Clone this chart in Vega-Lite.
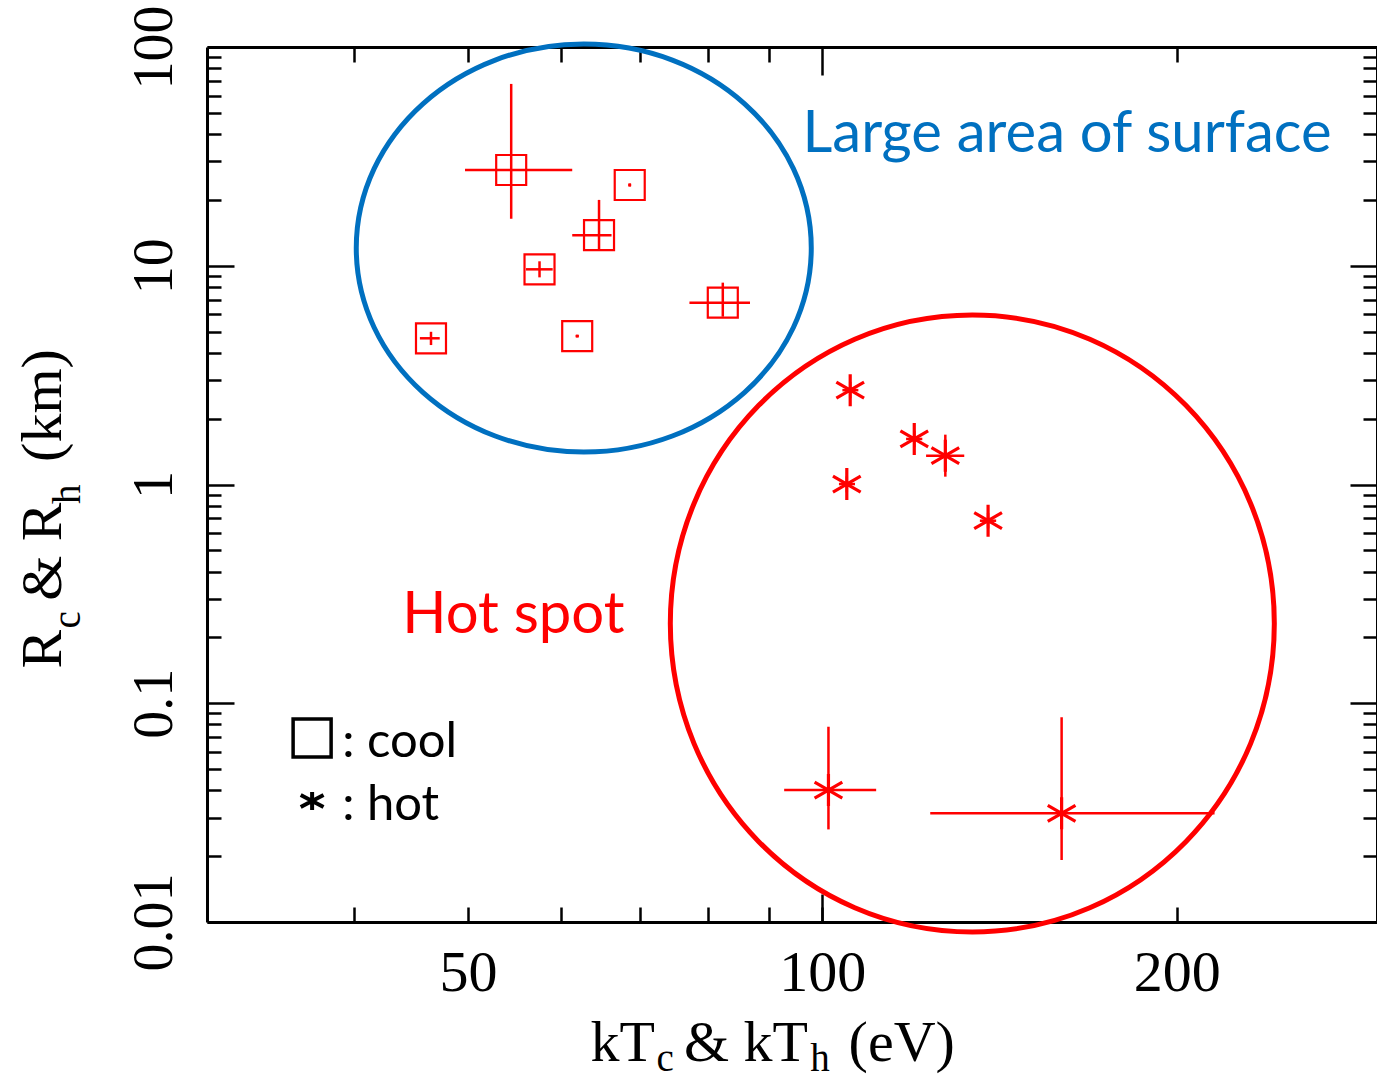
{
  "$schema": "https://vega.github.io/schema/vega-lite/v6.json",
  "width": 1170,
  "height": 875,
  "autosize": "none",
  "padding": {"left": 207, "top": 47, "right": 0, "bottom": 154},
  "background": "white",
  "config": {
    "view": {"stroke": null},
    "axis": {
      "grid": false,
      "tickColor": "#000",
      "domainColor": "#000",
      "labelColor": "#000",
      "titleColor": "#000",
      "labelFont": "Liberation Serif",
      "titleFont": "Liberation Serif",
      "titleFontWeight": "normal",
      "tickWidth": 2.5,
      "domainWidth": 3,
      "labelOverlap": false,
      "labelFlush": false
    }
  },
  "datasets": {
    "measurements": [
      {"component": "cool", "kT": 54.4, "R": 27.4, "kTlo": 49.7, "kThi": 61.3, "Rlo": 16.4, "Rhi": 67.8},
      {"component": "cool", "kT": 68.6, "R": 23.4, "kTlo": 68.4, "kThi": 68.8, "Rlo": 23.0, "Rhi": 23.8},
      {"component": "cool", "kT": 64.6, "R": 13.8, "kTlo": 61.3, "kThi": 66.2, "Rlo": 11.8, "Rhi": 20.0},
      {"component": "cool", "kT": 57.5, "R": 9.63, "kTlo": 56.0, "kThi": 59.0, "Rlo": 8.85, "Rhi": 10.48},
      {"component": "cool", "kT": 82.3, "R": 6.78, "kTlo": 77.1, "kThi": 86.8, "Rlo": 5.85, "Rhi": 8.37},
      {"component": "cool", "kT": 46.5, "R": 4.66, "kTlo": 45.5, "kThi": 47.3, "Rlo": 4.34, "Rhi": 4.99},
      {"component": "cool", "kT": 61.9, "R": 4.77, "kTlo": 61.7, "kThi": 62.1, "Rlo": 4.70, "Rhi": 4.84},
      {"component": "hot", "kT": 105.6, "R": 2.70, "kTlo": 104.0, "kThi": 107.3, "Rlo": 2.48, "Rhi": 2.94},
      {"component": "hot", "kT": 119.7, "R": 1.615, "kTlo": 117.8, "kThi": 121.6, "Rlo": 1.48, "Rhi": 1.76},
      {"component": "hot", "kT": 127.2, "R": 1.354, "kTlo": 122.5, "kThi": 132.0, "Rlo": 1.086, "Rhi": 1.69},
      {"component": "hot", "kT": 104.9, "R": 1.005, "kTlo": 103.3, "kThi": 106.6, "Rlo": 0.92, "Rhi": 1.09},
      {"component": "hot", "kT": 138.3, "R": 0.683, "kTlo": 136.1, "kThi": 140.5, "Rlo": 0.63, "Rhi": 0.74},
      {"component": "hot", "kT": 101.2, "R": 0.0401, "kTlo": 92.8, "kThi": 111.1, "Rlo": 0.0265, "Rhi": 0.0781},
      {"component": "hot", "kT": 159.7, "R": 0.0314, "kTlo": 123.5, "kThi": 215.4, "Rlo": 0.0192, "Rhi": 0.0863}
    ],
    "regions": [
      {"region": "surface", "kT": 62.7, "R": 12.05},
      {"region": "spot", "kT": 134.1, "R": 0.2315}
    ],
    "notes": [
      {"note": "Large area of surface", "group": "surface", "kT": 96.2, "R": 33.1},
      {"note": "Hot spot", "group": "spot", "kT": 43.96, "R": 0.2096},
      {"note": ": cool", "group": "key", "kT": 39.08, "R": 0.0568},
      {"note": ": hot", "group": "key", "kT": 39.08, "R": 0.02925}
    ],
    "key": [
      {"component": "cool", "kT": 36.85, "R": 0.0694},
      {"component": "hot", "kT": 36.85, "R": 0.0357}
    ]
  },
  "resolve": {"axis": {"x": "independent", "y": "independent"}},
  "layer": [
    {
      "data": {"name": "regions"},
      "transform": [{"filter": "datum.region == 'surface'"}],
      "mark": {
        "type": "point",
        "shape": "M1,0C1,0.4953,0.5523,0.8967,0,0.8967C-0.5523,0.8967,-1,0.4953,-1,0C-1,-0.4953,-0.5523,-0.8967,0,-0.8967C0.5523,-0.8967,1,-0.4953,1,0Z",
        "size": 207025,
        "filled": false,
        "stroke": "#0070C0",
        "strokeWidth": 5,
        "opacity": 1
      },
      "encoding": {
        "x": {
          "field": "kT", "type": "quantitative",
          "scale": {"type": "log", "domain": [30, 296], "nice": false},
          "axis": {
            "orient": "bottom",
            "values": [40, 50, 60, 70, 80, 90, 100, 200],
            "tickSize": -15,
            "domain": true,
            "labelExpr": "indexof([50,100,200], datum.value) >= 0 ? toString(datum.value) : ''",
            "labelFontSize": 58,
            "labelPadding": 83,
            "labelAlign": "center",
            "labelBaseline": "alphabetic",
            "title": "kT\u00a0\u00a0& kT\u00a0\u00a0\u2009(eV)",
            "titleFontSize": 58,
            "titleX": 383,
            "titleY": 138,
            "titleAlign": "left",
            "titleBaseline": "alphabetic"
          }
        },
        "y": {
          "field": "R", "type": "quantitative",
          "scale": {"type": "log", "domain": [0.01, 100], "nice": false},
          "axis": {
            "orient": "left",
            "values": [0.01, 0.1, 1, 10, 100],
            "tickSize": -27,
            "domain": true,
            "labelExpr": "toString(datum.value)",
            "labelFontSize": 56,
            "labelAngle": -90,
            "labelAlign": "center",
            "labelBaseline": "alphabetic",
            "labelPadding": 63,
            "title": "R\u00a0\u00a0& R\u00a0\u00a0\u2009(km)",
            "titleFontSize": 58,
            "titleAngle": -90,
            "titleAlign": "left",
            "titleBaseline": "alphabetic",
            "titleX": -147,
            "titleY": 621
          }
        }
      }
    },
    {
      "data": {"name": "regions"},
      "transform": [{"filter": "datum.region == 'spot'"}],
      "mark": {
        "type": "point",
        "shape": "M1,0C1,0.5642,0.5523,1.0215,0,1.0215C-0.5523,1.0215,-1,0.5642,-1,0C-1,-0.5642,-0.5523,-1.0215,0,-1.0215C0.5523,-1.0215,1,-0.5642,1,0Z",
        "size": 364816,
        "filled": false,
        "stroke": "#FF0000",
        "strokeWidth": 5,
        "opacity": 1
      },
      "encoding": {
        "x": {
          "field": "kT", "type": "quantitative",
          "scale": {"type": "log", "domain": [30, 296], "nice": false},
          "axis": {
            "orient": "bottom",
            "values": [100],
            "tickSize": -28,
            "domain": false,
            "labels": false,
            "title": "c\u00a0\u00a0\u00a0\u00a0\u00a0\u00a0\u00a0\u00a0\u00a0\u00a0\u00a0\u00a0\u00a0\u00a0h",
            "titleFontSize": 39,
            "titleX": 449,
            "titleY": 148,
            "titleAlign": "left",
            "titleBaseline": "alphabetic"
          }
        },
        "y": {
          "field": "R", "type": "quantitative",
          "scale": {"type": "log", "domain": [0.01, 100], "nice": false},
          "axis": {
            "orient": "left",
            "values": [0.02, 0.03, 0.04, 0.05, 0.06, 0.07, 0.08, 0.09, 0.2, 0.3, 0.4, 0.5, 0.6, 0.7, 0.8, 0.9, 2, 3, 4, 5, 6, 7, 8, 9, 20, 30, 40, 50, 60, 70, 80, 90],
            "tickSize": -14,
            "domain": false,
            "labels": false,
            "title": "c\u00a0\u00a0\u00a0\u00a0\u00a0\u00a0\u00a0\u00a0\u00a0\u00a0\u00a0h",
            "titleFontSize": 39,
            "titleAngle": -90,
            "titleAlign": "left",
            "titleBaseline": "alphabetic",
            "titleX": -128,
            "titleY": 581
          }
        }
      }
    },
    {
      "data": {"name": "measurements"},
      "transform": [{"filter": "datum.component == 'cool'"}],
      "mark": {"type": "rule", "color": "#FF0000", "strokeWidth": 2.5},
      "encoding": {
        "x": {
          "field": "kTlo", "type": "quantitative",
          "scale": {"type": "log", "domain": [30, 296], "nice": false},
          "axis": {
            "orient": "top",
            "values": [40, 50, 60, 70, 80, 90, 200],
            "tickSize": -15,
            "domain": true,
            "labels": false,
            "title": null
          }
        },
        "x2": {"field": "kThi"},
        "y": {
          "field": "R", "type": "quantitative",
          "scale": {"type": "log", "domain": [0.01, 100], "nice": false},
          "axis": {
            "orient": "right",
            "values": [0.01, 0.1, 1, 10, 100],
            "tickSize": -27,
            "domain": true,
            "labels": false,
            "title": null
          }
        }
      }
    },
    {
      "data": {"name": "measurements"},
      "transform": [{"filter": "datum.component == 'cool'"}],
      "mark": {"type": "rule", "color": "#FF0000", "strokeWidth": 2.5},
      "encoding": {
        "x": {
          "field": "kT", "type": "quantitative",
          "scale": {"type": "log", "domain": [30, 296], "nice": false},
          "axis": {
            "orient": "top",
            "values": [100],
            "tickSize": -28,
            "domain": false,
            "labels": false,
            "title": null
          }
        },
        "y": {
          "field": "Rlo", "type": "quantitative",
          "scale": {"type": "log", "domain": [0.01, 100], "nice": false},
          "axis": {
            "orient": "right",
            "values": [0.02, 0.03, 0.04, 0.05, 0.06, 0.07, 0.08, 0.09, 0.2, 0.3, 0.4, 0.5, 0.6, 0.7, 0.8, 0.9, 2, 3, 4, 5, 6, 7, 8, 9, 20, 30, 40, 50, 60, 70, 80, 90],
            "tickSize": -14,
            "domain": false,
            "labels": false,
            "title": null
          }
        },
        "y2": {"field": "Rhi"}
      }
    },
    {
      "data": {"name": "measurements"},
      "transform": [{"filter": "datum.component == 'hot'"}],
      "mark": {"type": "rule", "color": "#FF0000", "strokeWidth": 2.5},
      "encoding": {
        "x": {"field": "kTlo", "type": "quantitative", "scale": {"type": "log", "domain": [30, 296], "nice": false}, "axis": null},
        "x2": {"field": "kThi"},
        "y": {"field": "R", "type": "quantitative", "scale": {"type": "log", "domain": [0.01, 100], "nice": false}, "axis": null}
      }
    },
    {
      "data": {"name": "measurements"},
      "transform": [{"filter": "datum.component == 'hot'"}],
      "mark": {"type": "rule", "color": "#FF0000", "strokeWidth": 2.5},
      "encoding": {
        "x": {"field": "kT", "type": "quantitative", "scale": {"type": "log", "domain": [30, 296], "nice": false}, "axis": null},
        "y": {"field": "Rlo", "type": "quantitative", "scale": {"type": "log", "domain": [0.01, 100], "nice": false}, "axis": null},
        "y2": {"field": "Rhi"}
      }
    },
    {
      "data": {"name": "measurements"},
      "transform": [{"filter": "datum.component == 'cool'"}],
      "mark": {"type": "point", "shape": "square", "size": 900, "filled": false, "stroke": "#FF0000", "strokeWidth": 2.2, "opacity": 1},
      "encoding": {
        "x": {"field": "kT", "type": "quantitative", "scale": {"type": "log", "domain": [30, 296], "nice": false}, "axis": null},
        "y": {"field": "R", "type": "quantitative", "scale": {"type": "log", "domain": [0.01, 100], "nice": false}, "axis": null}
      }
    },
    {
      "data": {"name": "measurements"},
      "transform": [{"filter": "datum.component == 'hot'"}],
      "mark": {"type": "point", "shape": "M0,-1L0,1M-0.866,-0.5L0.866,0.5M-0.866,0.5L0.866,-0.5", "size": 1024, "filled": false, "stroke": "#FF0000", "strokeWidth": 3.2, "opacity": 1},
      "encoding": {
        "x": {"field": "kT", "type": "quantitative", "scale": {"type": "log", "domain": [30, 296], "nice": false}, "axis": null},
        "y": {"field": "R", "type": "quantitative", "scale": {"type": "log", "domain": [0.01, 100], "nice": false}, "axis": null}
      }
    },
    {
      "data": {"name": "key"},
      "transform": [{"filter": "datum.component == 'cool'"}],
      "mark": {"type": "point", "shape": "square", "size": 1444, "filled": false, "stroke": "#000000", "strokeWidth": 3.5, "opacity": 1},
      "encoding": {
        "x": {"field": "kT", "type": "quantitative", "scale": {"type": "log", "domain": [30, 296], "nice": false}, "axis": null},
        "y": {"field": "R", "type": "quantitative", "scale": {"type": "log", "domain": [0.01, 100], "nice": false}, "axis": null}
      }
    },
    {
      "data": {"name": "key"},
      "transform": [{"filter": "datum.component == 'hot'"}],
      "mark": {"type": "point", "shape": "M0,-0.75L0,0.75M-0.95,-0.5L0.95,0.5M-0.95,0.5L0.95,-0.5", "size": 576, "filled": false, "stroke": "#000000", "strokeWidth": 4, "opacity": 1},
      "encoding": {
        "x": {"field": "kT", "type": "quantitative", "scale": {"type": "log", "domain": [30, 296], "nice": false}, "axis": null},
        "y": {"field": "R", "type": "quantitative", "scale": {"type": "log", "domain": [0.01, 100], "nice": false}, "axis": null}
      }
    },
    {
      "data": {"name": "notes"},
      "transform": [{"filter": "datum.group != 'key'"}],
      "mark": {"type": "text", "font": "Lato", "fontSize": 58, "align": "left", "baseline": "alphabetic"},
      "encoding": {
        "x": {"field": "kT", "type": "quantitative", "scale": {"type": "log", "domain": [30, 296], "nice": false}, "axis": null},
        "y": {"field": "R", "type": "quantitative", "scale": {"type": "log", "domain": [0.01, 100], "nice": false}, "axis": null},
        "text": {"field": "note"},
        "color": {"field": "group", "type": "nominal", "scale": {"domain": ["surface", "spot", "key"], "range": ["#0070C0", "#FF0000", "#000000"]}, "legend": null}
      }
    },
    {
      "data": {"name": "notes"},
      "transform": [{"filter": "datum.group == 'key'"}],
      "mark": {"type": "text", "font": "Lato", "fontSize": 49, "align": "left", "baseline": "alphabetic", "color": "#000000"},
      "encoding": {
        "x": {"field": "kT", "type": "quantitative", "scale": {"type": "log", "domain": [30, 296], "nice": false}, "axis": null},
        "y": {"field": "R", "type": "quantitative", "scale": {"type": "log", "domain": [0.01, 100], "nice": false}, "axis": null},
        "text": {"field": "note"}
      }
    }
  ]
}
